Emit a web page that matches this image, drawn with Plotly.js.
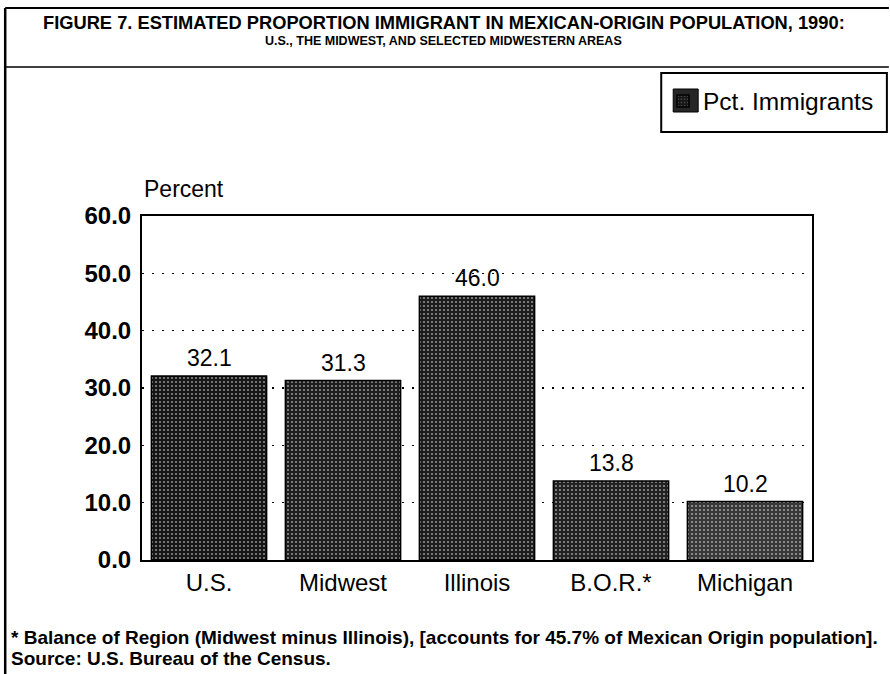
<!DOCTYPE html>
<html>
<head>
<meta charset="utf-8">
<script src="https://cdn.plot.ly/plotly-3.0.1.min.js"></script>
<style>
  html, body { margin: 0; padding: 0; background: #fff; }
  #chart { width: 890px; height: 674px; }
</style>
</head>
<body>
<div id="chart"></div>
<script>
// ---- data ----
const categories = ["U.S.", "Midwest", "Illinois", "B.O.R.*", "Michigan"];
const pctImmigrants = [32.1, 31.3, 46.0, 13.8, 10.2];
const yTickValues = [0, 10, 20, 30, 40, 50, 60];
const yTickLabels = ["0.0", "10.0", "20.0", "30.0", "40.0", "50.0", "60.0"];
const seriesName = "Pct. Immigrants";
const titleLine1 = "FIGURE 7. ESTIMATED PROPORTION IMMIGRANT IN MEXICAN-ORIGIN POPULATION, 1990:";
const titleLine2 = "U.S., THE MIDWEST, AND SELECTED MIDWESTERN AREAS";
const footnote1 = "* Balance of Region (Midwest minus Illinois), [accounts for 45.7% of Mexican Origin population].";
const footnote2 = "Source: U.S. Bureau of the Census.";

// ---- layout helpers (pixel -> paper) ----
const W = 890, H = 674;
const mL = 142, mR = 77, mT = 216, mB = 114;
const pw = W - mL - mR, ph = H - mT - mB;
const px = x => (x - mL) / pw;
const py = y => (H - mB - y) / ph;

const FONT = "Liberation Sans, Arial, Helvetica, sans-serif";

const barColors = ["#161616", "#1e1e1e", "#1c1c1c", "#222222", "#383838"];

const trace = {
  type: "bar",
  x: categories,
  y: pctImmigrants,
  name: seriesName,
  showlegend: true,
  marker: {
    color: barColors,
    line: { color: "#000", width: 1.5 },
    pattern: {
      shape: ".",
      fillmode: "overlay",
      fgcolor: "#8c8c8c",
      size: 4,
      solidity: 0.22
    }
  },
  hoverinfo: "x+y"
};

const annotations = categories.map((c, i) => ({
  x: c, y: pctImmigrants[i], xref: "x", yref: "y",
  text: pctImmigrants[i].toFixed(1),
  showarrow: false, yanchor: "bottom", yshift: 3,
  font: { family: FONT, size: 23, color: "#000" }
}));

annotations.push(
  { xref: "paper", yref: "paper", x: px(444), y: py(23), xanchor: "center", yanchor: "middle",
    text: "<b>" + titleLine1 + "</b>", showarrow: false,
    font: { family: FONT, size: 18.3, color: "#000" } },
  { xref: "paper", yref: "paper", x: px(444), y: py(41), xanchor: "center", yanchor: "middle",
    text: "<b>" + titleLine2 + "</b>", showarrow: false,
    font: { family: FONT, size: 12.5, color: "#000" } },
  { xref: "paper", yref: "paper", x: px(142), y: py(189), xanchor: "left", yanchor: "middle",
    text: "Percent", showarrow: false,
    font: { family: FONT, size: 23, color: "#000" } },
  { xref: "paper", yref: "paper", x: px(9), y: py(637), xanchor: "left", yanchor: "middle",
    text: "<b>" + footnote1 + "</b>", showarrow: false,
    font: { family: FONT, size: 19, color: "#000" } },
  { xref: "paper", yref: "paper", x: px(9), y: py(658), xanchor: "left", yanchor: "middle",
    text: "<b>" + footnote2 + "</b>", showarrow: false,
    font: { family: FONT, size: 19, color: "#000" } }
);

const shapes = [
  // outer frame: top, left
  { type: "line", xref: "paper", yref: "paper", x0: px(5), x1: px(890), y0: py(8), y1: py(8),
    line: { color: "#000", width: 2 } },
  { type: "line", xref: "paper", yref: "paper", x0: px(5), x1: px(5), y0: py(8), y1: py(674),
    line: { color: "#000", width: 2.5 } },
  // title separator
  { type: "line", xref: "paper", yref: "paper", x0: px(5), x1: px(890), y0: py(67), y1: py(67),
    line: { color: "#000", width: 1.5 } },
  // legend frame
  { type: "rect", xref: "paper", yref: "paper", x0: px(662), x1: px(888), y0: py(73), y1: py(132),
    line: { color: "#000", width: 2 }, fillcolor: "#fff", layer: "below" },
  // enlarged legend swatch backdrop
  { type: "rect", xref: "paper", yref: "paper", x0: px(674), x1: px(699), y0: py(89), y1: py(112),
    line: { color: "#000", width: 1 }, fillcolor: "#262626", layer: "above" }
];

const layout = {
  width: W, height: H,
  margin: { l: mL, r: mR, t: mT, b: mB, pad: 0 },
  paper_bgcolor: "#fff",
  plot_bgcolor: "rgba(0,0,0,0)",
  bargap: 0.14,
  font: { family: FONT, color: "#000" },
  xaxis: {
    type: "category",
    showline: true, mirror: true, linecolor: "#000", linewidth: 2,
    ticks: "", showgrid: false,
    tickfont: { family: FONT, size: 24, color: "#000" },
    fixedrange: true
  },
  yaxis: {
    range: [0, 60],
    tickvals: yTickValues, ticktext: yTickLabels,
    showline: true, mirror: true, linecolor: "#000", linewidth: 2,
    ticks: "", ticklabelstandoff: 4,
    showgrid: true, gridcolor: "#000", gridwidth: 1.5, griddash: "2px,8px",
    zeroline: false,
    tickfont: { family: FONT, size: 24, color: "#000", weight: "bold" },
    fixedrange: true
  },
  showlegend: true,
  legend: {
    x: px(663), y: py(101), xanchor: "left", yanchor: "middle",
    borderwidth: 0, bgcolor: "rgba(0,0,0,0)",
    font: { family: FONT, size: 24.5, color: "#000" },
    itemwidth: 30
  },
  annotations: annotations,
  shapes: shapes
};

Plotly.newPlot("chart", [trace], layout, { displayModeBar: false, staticPlot: true });
</script>
</body>
</html>
